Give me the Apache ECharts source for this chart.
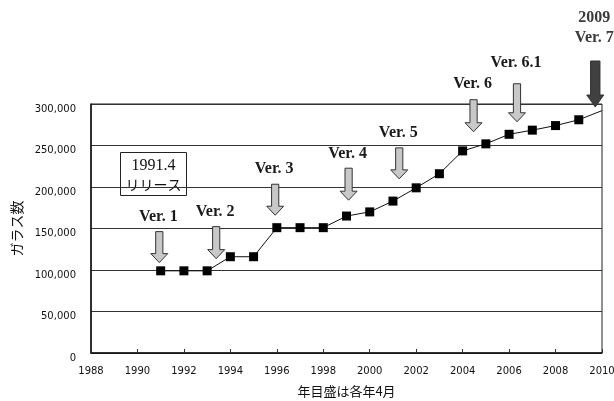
<!DOCTYPE html>
<html>
<head>
<meta charset="utf-8">
<script src="https://cdn.jsdelivr.net/npm/echarts@6/dist/echarts.min.js"></script>
<style>html,body{margin:0;padding:0;background:#fff}#c{width:614px;height:401px}</style>
</head>
<body>
<div id="c"></div>
<script>
// Data
var years = [1991,1992,1993,1994,1995,1996,1997,1998,1999,2000,2001,2002,2003,2004,2005,2006,2007,2008,2009,2010];
var glassCount = [99000,99000,99000,116000,116000,151000,151000,151000,165000,170000,183000,199000,216000,243500,252000,263500,268500,274000,281000,292000];
var markedPoints = 19; // the 2010 end of the line has no marker
var xTicks = [1988,1990,1992,1994,1996,1998,2000,2002,2004,2006,2008,2010];
var yTicks = [0,50000,100000,150000,200000,250000,300000];
var arrowLabels = ['Ver. 1','Ver. 2','Ver. 3','Ver. 4','Ver. 5','Ver. 6','Ver. 6.1','2009\nVer. 7'];
var arrowYears = [1990.94,1993.39,1995.93,1999.09,2001.27,2004.47,2006.34,2009.71];
var arrowTipValues = [108900,113700,166000,184100,209800,266600,278600,296400];

// Styles (pixel lengths of arrows, label gaps)
var arrowLen = [31,32,31,32,31,32,38,46];
var labelGap = [15,15,15,14,15,16,21,23];

var chart = echarts.init(document.getElementById('c'), null, {renderer:'canvas'});
var lineData = years.map(function(y,i){
  var d = {value:[y, glassCount[i]]};
  if (i >= markedPoints) d.symbol = 'none';
  return d;
});
var arrowData = arrowYears.map(function(y,i){ return [y, arrowTipValues[i], i]; });

chart.setOption({
  animation:false,
  grid:{left:91, right:12, top:104, bottom:48, containLabel:false, outerBoundsMode:'none', show:true, borderColor:'#222', borderWidth:1, backgroundColor:'#fff'},
  xAxis:{
    type:'value', min:xTicks[0], max:xTicks[xTicks.length-1], interval:2,
    name:'年目盛は各年4月', nameLocation:'middle', nameGap:32,
    nameTextStyle:{fontFamily:'Noto Sans CJK JP', fontSize:13, color:'#111'},
    axisLine:{show:true, onZero:false, lineStyle:{color:'#111', width:1.5}},
    axisTick:{show:true, inside:true, length:4, lineStyle:{color:'#333'}},
    axisLabel:{fontFamily:'DejaVu Sans', fontSize:10, color:'#111', margin:13, formatter:function(v){return String(v);}},
    splitLine:{show:false}
  },
  yAxis:{
    type:'value', min:yTicks[0], max:yTicks[yTicks.length-1], interval:50000,
    name:'ガラス数', nameLocation:'middle', nameGap:66, nameRotate:90,
    nameTextStyle:{fontFamily:'Noto Sans CJK JP', fontSize:14, color:'#111'},
    axisLine:{show:true, lineStyle:{color:'#111', width:1.5}},
    axisTick:{show:false},
    axisLabel:{fontFamily:'DejaVu Sans', fontSize:10, color:'#111', margin:15, verticalAlign:'top', formatter:function(v){return v.toLocaleString('en-US');}},
    splitLine:{show:true, lineStyle:{color:'#333', width:1}}
  },
  series:[
    {
      type:'line', data:lineData, symbol:'rect', symbolSize:9,
      lineStyle:{color:'#111', width:1}, itemStyle:{color:'#000'},
      z:3, clip:true
    },
    {
      type:'custom', clip:false, z:5,
      data:arrowData,
      encode:{x:0,y:1},
      renderItem:function(params, api){
        var idx = api.value(2);
        var p = api.coord([api.value(0), api.value(1)]);
        var x = p[0], tip = p[1];
        var len = arrowLen[idx];
        var dark = idx === 7;
        var sw = dark ? 4.7 : 3.6, hw = 8.5, hh = dark ? 12 : 9;
        var top = tip - len;
        var pts = [[x-sw,top],[x+sw,top],[x+sw,tip-hh],[x+hw,tip-hh],[x,tip],[x-hw,tip-hh],[x-sw,tip-hh]];
        var lines = arrowLabels[idx].split('\n');
        var children = [{
          type:'polygon', shape:{points:pts},
          style:{fill: dark ? '#404040' : '#c8c8c8', stroke:'#333', lineWidth:1}
        }];
        var ly = top - labelGap[idx];
        for (var k = lines.length-1; k >= 0; k--) {
          children.push({
            type:'text',
            style:{text:lines[k], x:x-1, y:ly - (lines.length-1-k)*20, align:'center', verticalAlign:'middle',
              font:'bold 16px "Liberation Serif"', fill: dark ? '#3a3a3a' : '#1a1a1a'}
          });
        }
        return {type:'group', children:children};
      }
    }
  ],
  graphic:[
    {type:'group', left:120, top:152, z:10, children:[
      {type:'rect', shape:{x:0,y:0,width:66,height:43}, style:{fill:'#fff', stroke:'#222', lineWidth:1}},
      {type:'text', style:{text:'1991.4', x:33, y:13, align:'center', verticalAlign:'middle', font:'16px "Liberation Serif"', fill:'#111'}},
      {type:'text', style:{text:'リリース', x:33, y:32, align:'center', verticalAlign:'middle', font:'14px "Noto Sans CJK JP"', fill:'#111'}}
    ]}
  ]
});
</script>
</body>
</html>
